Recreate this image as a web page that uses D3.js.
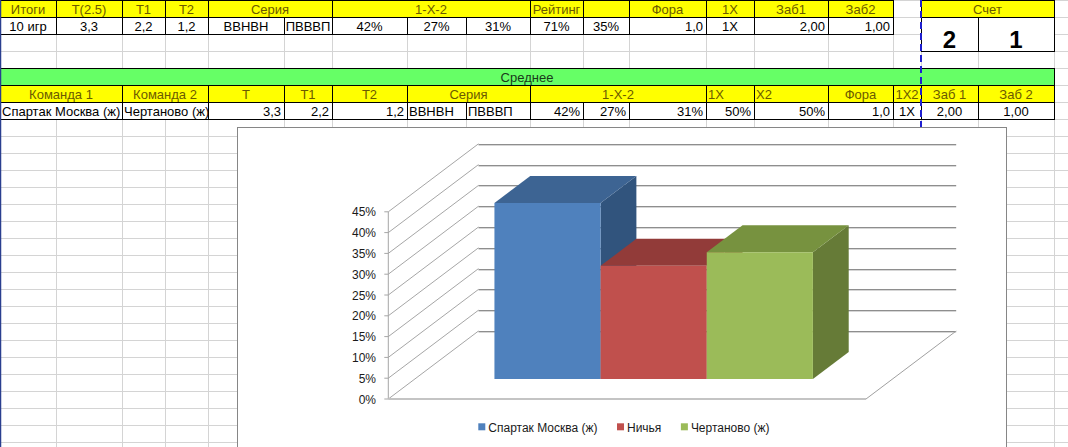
<!DOCTYPE html>
<html><head><meta charset="utf-8">
<script src="https://cdn.jsdelivr.net/npm/d3@7/dist/d3.min.js"></script>
<style>
body{margin:0;background:#fff;overflow:hidden}
svg{display:block}
text{font-family:"Liberation Sans",Arial,sans-serif}
</style>
</head><body>
<svg id="c" width="1068" height="447"></svg>
<script>
// ---------------- DATA ----------------
const summaryHeaders = ["Итоги","Т(2.5)","Т1","Т2","Серия","1-X-2","Рейтинг","","Фора","1X","Заб1","Заб2"];
const summaryValues  = ["10 игр","3,3","2,2","1,2","ВВНВН","ПВВВП","42%","27%","31%","71%","35%","1,0","1X","2,00","1,00"];
const scoreHeader = "Счет";
const scoreValues = ["2","1"];
const avgTitle = "Среднее";
const avgHeaders = ["Команда 1","Команда 2","Т","Т1","Т2","Серия","1-X-2","1X","X2","Фора","1X2","Заб 1","Заб 2"];
const avgValues  = ["Спартак Москва (ж)","Чертаново (ж)","3,3","2,2","1,2","ВВНВН","ПВВВП","42%","27%","31%","50%","50%","1,0","1X","2,00","1,00"];
const seriesNames  = ["Спартак Москва (ж)","Ничья","Чертаново (ж)"];
const seriesValues = [0.423, 0.272, 0.305];
const yTickValues  = [0,0.05,0.10,0.15,0.20,0.25,0.30,0.35,0.40,0.45];

// ---------------- LAYOUT ----------------
const colX = [0,56,121.6,164.6,207.6,284.4,332.3,406.7,465.6,530,583.2,628.8,705.7,753.7,827.9,892.7,921.2,977.8,1054.4,1140];
const rowTop = i => 1 + 17*i;
const summaryHeaderSpans = [[0,1],[1,2],[2,3],[3,4],[4,6],[6,9],[9,10],[10,11],[11,12],[12,13],[13,14],[14,15]];
const summaryValueAlign = ["middle","middle","middle","middle","middle","middle","middle","middle","middle","middle","middle","end","middle","end","end"];
const avgHeaderSpans = [[0,2],[2,4],[4,5],[5,6],[6,7],[7,9],[9,12],[12,13],[13,14],[14,15],[15,16],[16,17],[17,18]];
const avgHeaderAlign = ["middle","middle","middle","middle","middle","middle","middle","start","start","middle","middle","middle","middle"];
const avgValueSpans = [[0,2],[2,4],[4,5],[5,6],[6,7],[7,8],[8,9],[9,10],[10,11],[11,12],[12,13],[13,14],[14,15],[15,16],[16,17],[17,18]];
const avgValueAlign = ["start","start","end","end","end","start","start","end","end","end","end","end","end","middle","middle","middle"];
const HEADER_TXT = "#6b5a00";
const YELLOW = "#ffff00", GREEN = "#66ff66";
const CELL_FONT = 13;

const svg = d3.select("#c");
const W = 1068, H = 447;
svg.append("rect").attr("width",W).attr("height",H).attr("fill","#fff");
const defs = svg.append("defs");

// sheet gridlines
const grid = svg.append("g").attr("shape-rendering","crispEdges").attr("stroke","#d4d4d4");
colX.forEach(x => grid.append("line").attr("x1",Math.round(x)+0.5).attr("x2",Math.round(x)+0.5).attr("y1",0).attr("y2",H));
for (let i=0;i<28;i++) grid.append("line").attr("x1",0).attr("x2",W).attr("y1",rowTop(i)-0.5).attr("y2",rowTop(i)-0.5);

// cells
const cells = svg.append("g");
let clipId = 0;
function cell(r0, r1, c0, c1, txt, o) {
  o = o || {};
  const x0 = Math.round(colX[c0]), x1 = Math.round(colX[c1]);
  const y0 = rowTop(r0)-1, y1 = rowTop(r1)-1;
  cells.append("rect").attr("x",x0+0.5).attr("y",y0+0.5).attr("width",x1-x0).attr("height",y1-y0)
    .attr("fill",o.fill||"#fff").attr("stroke","#000").attr("stroke-width",1).attr("shape-rendering","crispEdges");
  if (txt === "" || txt == null) return;
  const id = "cl"+(clipId++);
  defs.append("clipPath").attr("id",id).append("rect").attr("x",x0+1).attr("y",y0+1).attr("width",x1-x0-1).attr("height",y1-y0-1);
  const a = o.align || "middle";
  const tx = a==="start" ? x0+2 : a==="end" ? x1-3 : (x0+x1)/2;
  cells.append("text").attr("clip-path","url(#"+id+")")
    .attr("x",tx).attr("y",o.baseline!=null ? o.baseline : y1-3.5)
    .attr("text-anchor",a).attr("font-size",o.size||CELL_FONT)
    .attr("font-weight",o.bold?"bold":"normal")
    .attr("fill",o.color||"#000").text(txt);
}

// summary table
summaryHeaders.forEach((t,i)=>cell(0,1,summaryHeaderSpans[i][0],summaryHeaderSpans[i][1],t,{fill:YELLOW,color:HEADER_TXT}));
summaryValues.forEach((t,i)=>cell(1,2,i,i+1,t,{align:summaryValueAlign[i]}));
// score box
cell(0,1,16,18,scoreHeader,{fill:YELLOW,color:HEADER_TXT});
scoreValues.forEach((t,i)=>cell(1,3,16+i,17+i,t,{size:24,bold:true,baseline:rowTop(3)-4}));
// average table
cell(4,5,0,18,avgTitle,{fill:GREEN,color:"#1a3a1a"});
avgHeaders.forEach((t,i)=>cell(5,6,avgHeaderSpans[i][0],avgHeaderSpans[i][1],t,{fill:YELLOW,color:HEADER_TXT,align:avgHeaderAlign[i]}));
avgValues.forEach((t,i)=>cell(6,7,avgValueSpans[i][0],avgValueSpans[i][1],t,{align:avgValueAlign[i]}));

// left frame line
svg.append("line").attr("x1",0.5).attr("x2",0.5).attr("y1",0).attr("y2",H).attr("stroke","#2a3f8f").attr("stroke-width",1.5);
// page-break dashed line
svg.append("line").attr("x1",921).attr("x2",921).attr("y1",0).attr("y2",H)
  .attr("stroke","#1f1fd0").attr("stroke-width",2).attr("stroke-dasharray","7,4");

// ---------------- CHART ----------------
const chart = svg.append("g");
chart.append("rect").attr("x",237.5).attr("y",127.5).attr("width",769).attr("height",340)
  .attr("fill","#fff").attr("stroke","#868686").attr("stroke-width",1);

const plotX0 = 388.3, plotX1 = 866;
const DEPTH = {dx: 90.2, dy: -68};
const y = d3.scaleLinear().domain([0,0.45]).range([399, 211.8]);
const xb = d3.scaleBand().domain(seriesNames).range([plotX0, plotX1]).paddingInner(0).paddingOuter(0.75);
const P = (x, v, t) => [x + DEPTH.dx*t, y(v) + DEPTH.dy*t];
const line = (a,b) => chart.append("line").attr("x1",a[0]).attr("y1",a[1]).attr("x2",b[0]).attr("y2",b[1]);

// walls: side wall diagonals + back wall horizontals
yTickValues.forEach(v => {
  line(P(plotX0,v,0),P(plotX0,v,1)).attr("stroke","#a6a6a6").attr("stroke-width",1);
  const a = P(plotX0,v,1), b = P(plotX1,v,1);
  chart.append("line").attr("x1",a[0]).attr("x2",b[0]).attr("y1",Math.round(a[1])+1.5).attr("y2",Math.round(b[1])+1.5)
    .attr("stroke","#d6d6d6").attr("stroke-width",1);
  chart.append("line").attr("x1",a[0]).attr("x2",b[0]).attr("y1",Math.round(a[1])+0.5).attr("y2",Math.round(b[1])+0.5)
    .attr("stroke","#8e8e8e").attr("stroke-width",1);
});
// axis line and ticks
line(P(plotX0,0,0),P(plotX0,0.45,0)).attr("stroke","#a6a6a6");
yTickValues.forEach(v => line([plotX0-4,y(v)],[plotX0,y(v)]).attr("stroke","#a6a6a6"));
// floor
line(P(plotX0,0,0),P(plotX1,0,0)).attr("stroke","#c4c4c4").attr("stroke-width",2);
line(P(plotX1,0,0),P(plotX1,0,1)).attr("stroke","#a0a0a0").attr("stroke-width",1);

// axis labels
chart.selectAll("text.yl").data(yTickValues).join("text").attr("class","yl")
  .attr("x",376).attr("y",v=>y(v)+1.5).attr("dominant-baseline","middle").attr("text-anchor","end")
  .attr("font-size",12).attr("fill","#1a1a1a").text(v=>d3.format(".0%")(v));

// bars
const barColors = [
  {front:"#4f81bd", top:"#3d6493", side:"#31547d"},
  {front:"#c0504d", top:"#923b39", side:"#7e3231"},
  {front:"#9bbb59", top:"#77923f", side:"#667b37"}
];
const T0 = 0.294, T1 = 0.691;
const poly = pts => pts.map(p=>p.join(",")).join(" ");
seriesNames.forEach((s,i) => {
  const v = seriesValues[i], c = barColors[i];
  const x0 = xb(s), x1 = xb(s) + xb.bandwidth();
  const fTL = P(x0,v,T0), fTR = P(x1,v,T0), fBR = P(x1,0,T0), fBL = P(x0,0,T0);
  const bTL = P(x0,v,T1), bTR = P(x1,v,T1), bBR = P(x1,0,T1);
  chart.append("polygon").attr("points",poly([fTR,bTR,bBR,fBR])).attr("fill",c.side);
  chart.append("polygon").attr("points",poly([fTL,fTR,bTR,bTL])).attr("fill",c.top);
  chart.append("polygon").attr("points",poly([fTL,fTR,fBR,fBL])).attr("fill",c.front);
});

// legend
const lg = chart.append("g");
let lx = 478.3;
seriesNames.forEach((s,i) => {
  lg.append("rect").attr("x",lx).attr("y",423.3).attr("width",7).attr("height",7).attr("fill",barColors[i].front);
  const t = lg.append("text").attr("x",lx+10).attr("y",431.5).attr("font-size",12).attr("fill","#1a1a1a").text(s);
  lx += 10 + t.node().getComputedTextLength() + 19.5;
});
</script>
</body></html>
